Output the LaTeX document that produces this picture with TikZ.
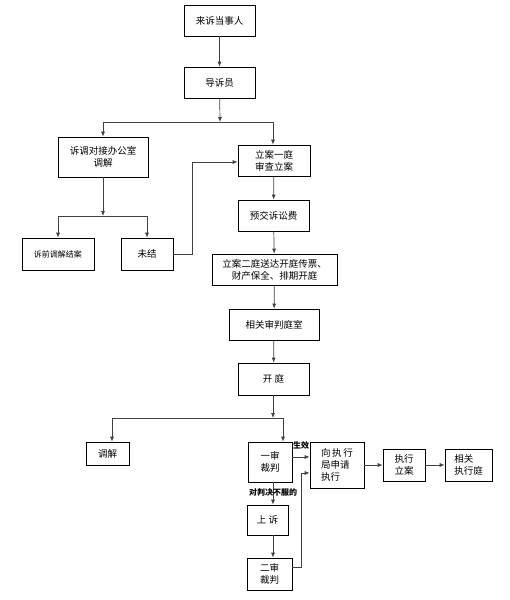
\documentclass[tikz,border=0pt]{standalone}
\usepackage{fontspec}
\setmainfont{Noto Sans CJK SC}
\usepackage{tikz}
\usetikzlibrary{arrows.meta,positioning}

\begin{document}
\begin{tikzpicture}[x=1pt,y=-1pt,>={Latex[length=5pt,width=4pt]},
    box/.style={draw,line width=0.7pt,inner sep=1pt,align=center,
        font=\fontsize{9.5}{12}\selectfont},
    link/.style={draw=black!75,line width=0.7pt},
    tag/.style={font=\bfseries\fontsize{8}{9}\selectfont,inner sep=0pt}]
    \useasboundingbox (0,0) rectangle (510,600);
    % top part
    \node[box,minimum width=71pt,minimum height=31pt] (laifang) at (219.5,20.5) {来诉当事人};
    \node[box,minimum width=71pt,minimum height=31pt] (daosu) at (219.5,82.5) {导诉员};
    \node[box,minimum width=90pt,minimum height=40pt] (sutiao) at (103,157) {诉调对接办公室\\调解};
    \node[box,minimum width=72pt,minimum height=32pt,font=\fontsize{8}{10}\selectfont] (suqian) at (58,254) {诉前调解结案};
    \node[box,minimum width=52pt,minimum height=32pt] (weijie) at (147,254) {未结};
    \node[box,minimum width=72pt,minimum height=31pt] (lian1) at (274,160.5) {立案一庭\\审查立案};
    \node[box,minimum width=71pt,minimum height=31pt] (yujiao) at (273.5,215.5) {预交诉讼费};
    \node[box,minimum width=125pt,minimum height=31pt] (lian2) at (274.5,269.5) {立案二庭送达开庭传票、\\财产保全、排期开庭};
    \node[box,minimum width=90pt,minimum height=31pt] (shenpan) at (274,324.5) {相关审判庭室};
    \node[box,minimum width=71pt,minimum height=32pt] (kaiting) at (273.5,379) {开\ 庭};
    % bottom part
    \node[box,minimum width=43pt,minimum height=23pt] (tiaojie) at (107.5,453.5) {调解};
    \node[box,minimum width=44pt,minimum height=40pt] (yishen) at (270,462) {一审\\裁判};
    \node[box,minimum width=54pt,minimum height=46pt,align=left] (shenqing) at (337,465) {向\,执\,行\\局申请\\执行};
    \node[box,minimum width=42pt,minimum height=32pt,align=left] (zxlian) at (404,465) {执行\\立案};
    \node[box,minimum width=47pt,minimum height=32pt,align=left] (zxting) at (468.5,465) {相关\\执行庭};
    \node[box,minimum width=41pt,minimum height=30pt] (shangsu) at (267.5,520) {上\ 诉};
    \node[box,minimum width=45pt,minimum height=32pt] (ershen) at (269.5,574) {二审\\裁判};

    \coordinate (j1) at (220,122);
    \coordinate (j2) at (103,216);
    \coordinate (j3) at (192,162);
    \coordinate (j4) at (273,418);
    \coordinate (j5) at (301,473);

    \path[link,->] (laifang) -- (daosu);
    \path[link,->] (daosu) -- (j1);
    \path[link] (103,122) -- (273,122);
    \path[link,->] (103,122) -- (sutiao.north);
    \path[link,->] (273,122) -- (lian1.north -| 273,0);
    \path[link,->] (sutiao) -- (j2);
    \path[link] (58,216) -- (147,216);
    \path[link,->] (58,216) -- (suqian.north);
    \path[link,->] (147,216) -- (weijie.north);
    \path[link,->] (weijie.east) -| (j3) -- (lian1.west |- j3);
    \path[link,->] (lian1) -- (yujiao);
    \path[link,->] (yujiao) -- (lian2);
    \path[link,->] (lian2) -- (shenpan);
    \path[link,->] (shenpan) -- (kaiting);
    \path[link,->] (kaiting.south -| j4) -- (j4);
    \path[link] (112,418) -- (283,418);
    \path[link,->] (112,418) -- (tiaojie.north -| 112,0);
    \path[link,->] (283,418) -- (yishen.north -| 283,0);
    \path[link,->] (yishen.east |- 0,457) -- (shenqing.west |- 0,457)
        node[tag,pos=0.5,above=7pt] {生效};
    \path[link,->] (yishen.south -| 273,0) -- (shangsu.north -| 273,0)
        node[tag,pos=0.45] {对判决不服的};
    \path[link,->] (shangsu.south -| 273,0) -- (ershen.north -| 273,0);
    \path[link,->] (ershen.east |- 0,567) -| (j5) -- (shenqing.west |- j5);
    \path[link,->] (shenqing) -- (zxlian);
    \path[link,->] (zxlian) -- (zxting);
\end{tikzpicture}
\end{document}
